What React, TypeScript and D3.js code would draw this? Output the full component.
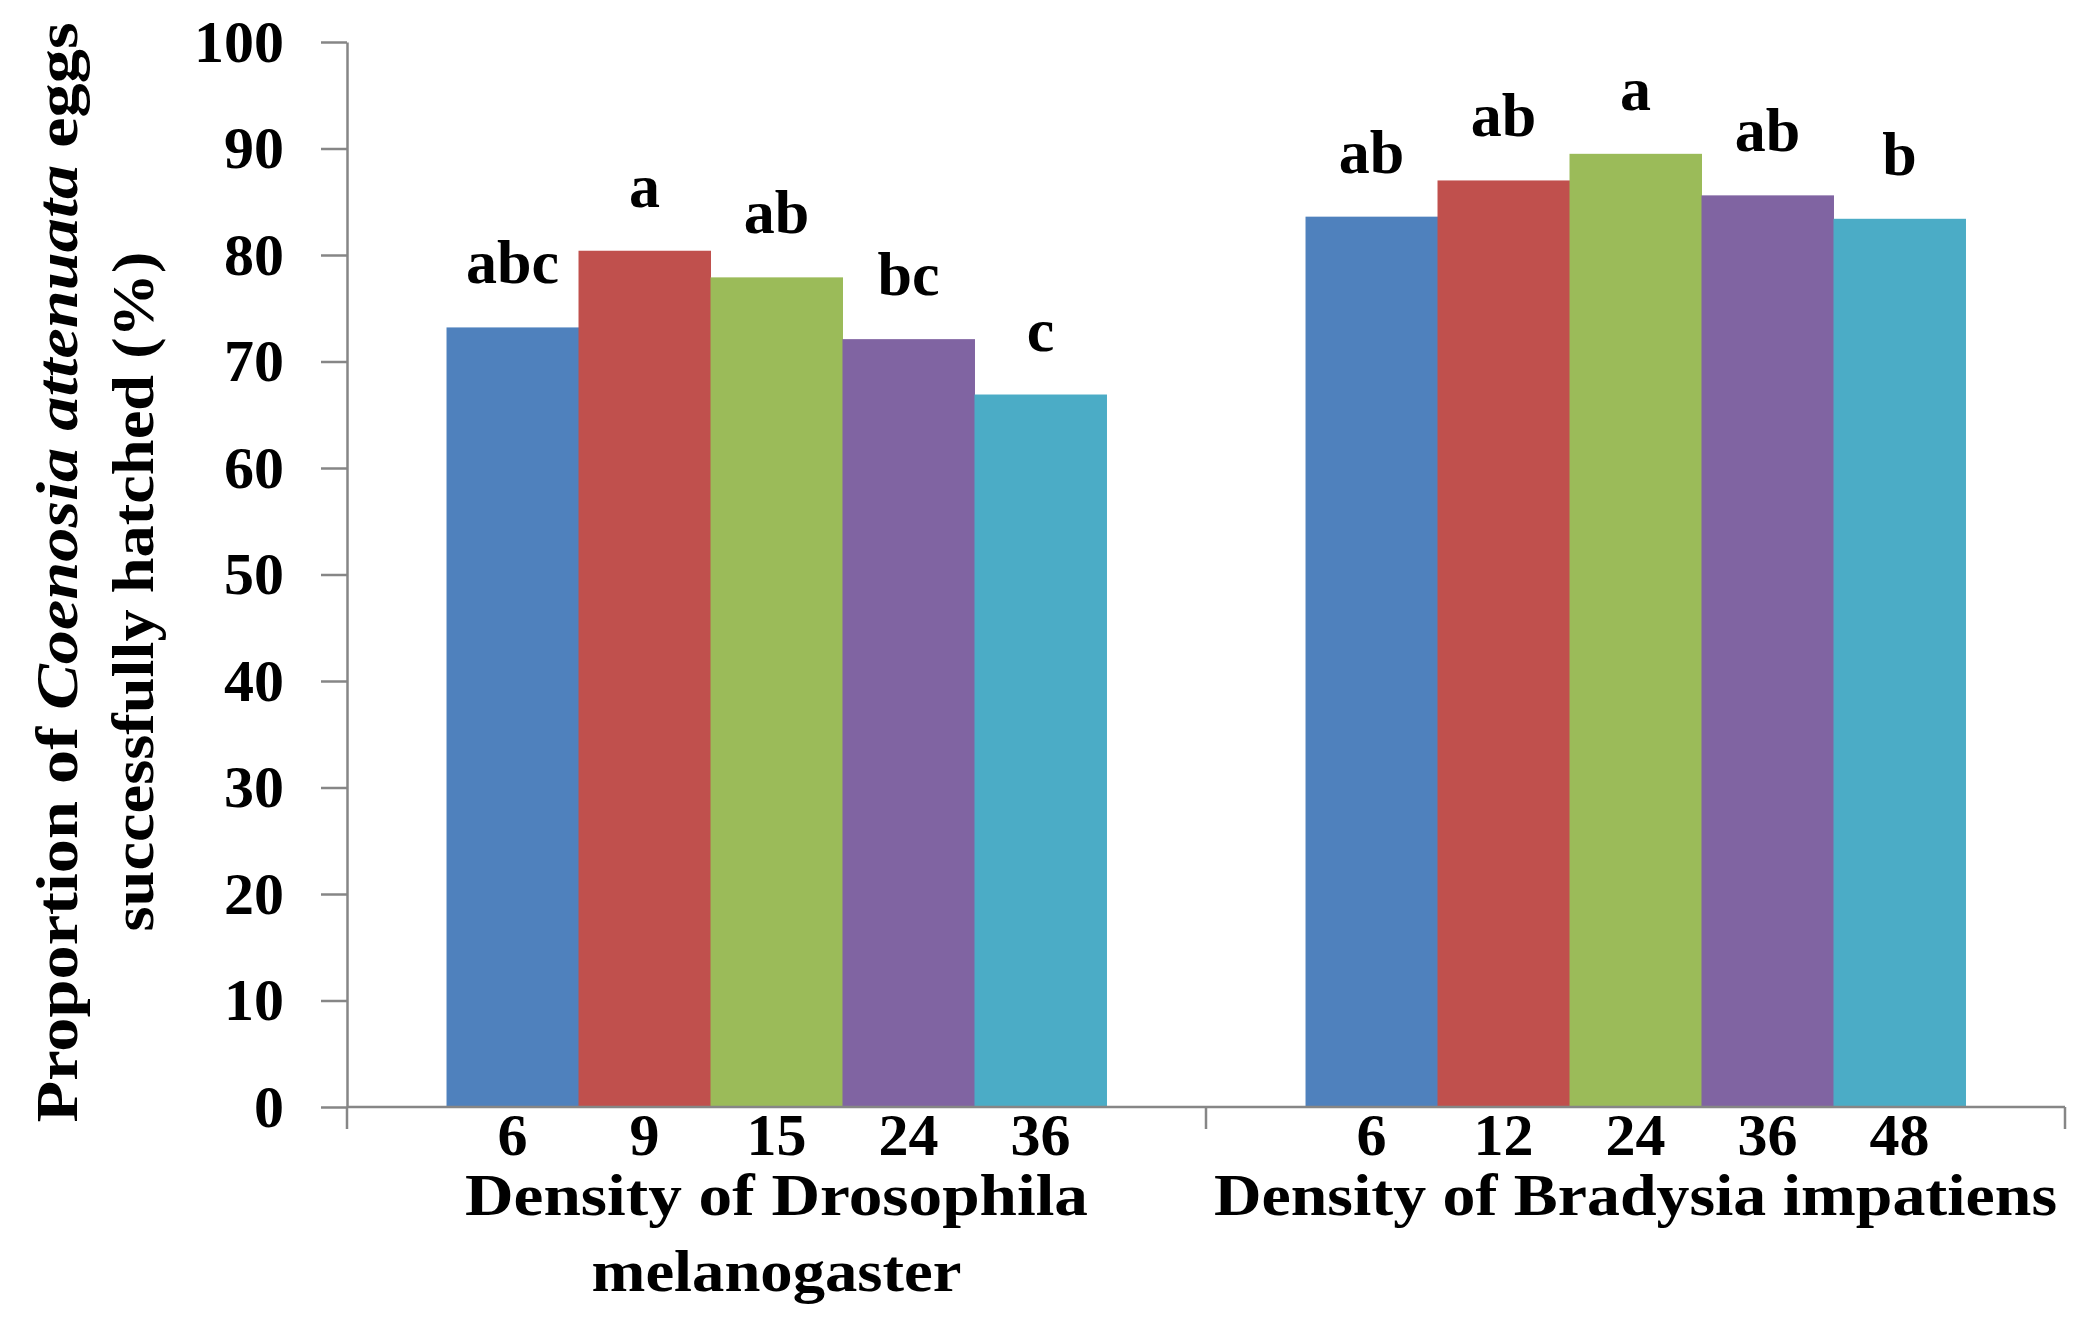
import React, { useEffect, useRef } from 'react';
import * as d3 from 'd3';

// values
const groupTitles = [
  ['Density of Drosophila', 'melanogaster'],
  ['Density of Bradysia impatiens'],
];
const drosophilaDensity = ['6', '9', '15', '24', '36'];
const bradysiaDensity = ['6', '12', '24', '36', '48'];
const drosophilaHatch = [73.2, 80.4, 77.9, 72.1, 66.9];
const bradysiaHatch = [83.6, 87.0, 89.5, 85.6, 83.4];
const drosophilaLetters = ['abc', 'a', 'ab', 'bc', 'c'];
const bradysiaLetters = ['ab', 'ab', 'a', 'ab', 'b'];
const yTicks = [0, 10, 20, 30, 40, 50, 60, 70, 80, 90, 100];
const barColors = ['#4F81BD', '#C0504D', '#9BBB59', '#8064A2', '#4BACC6'];

const W = 2082;
const H = 1329;
const FONT = '"Liberation Serif", "Times New Roman", serif';
// widths of the title lines in the original (its font runs wider than Times)
const titleWidths = [[623, 370], [843]];

export default () => {
  const svgRef = useRef<SVGSVGElement>(null);

  useEffect(() => {
    if (!svgRef.current) return;
    const svg = d3.select(svgRef.current);
    svg.selectAll('*').remove();

    const left = 347;
    const right = 2065;
    const top = 42;
    const bottom = 1107;

    const y = d3.scaleLinear().domain([0, 100]).range([bottom, top]);
    const xg = d3.scaleBand<number>().domain([0, 1]).range([left, right]).padding(0);

    const groups = [
      { cats: drosophilaDensity, vals: drosophilaHatch, letters: drosophilaLetters },
      { cats: bradysiaDensity, vals: bradysiaHatch, letters: bradysiaLetters },
    ];

    // y axis
    const yAxis = svg.append('g')
      .attr('transform', `translate(${left},0)`)
      .call(d3.axisLeft(y).tickValues(yTicks).tickSizeInner(26).tickSizeOuter(0).tickPadding(37));
    yAxis.select('.domain').attr('stroke', '#868686').attr('stroke-width', 2.5);
    yAxis.selectAll('.tick line').attr('stroke', '#868686').attr('stroke-width', 2.5);
    yAxis.selectAll('.tick text')
      .attr('font-family', FONT)
      .attr('font-size', 60)
      .attr('font-weight', 'bold')
      .attr('fill', '#000');

    groups.forEach((g, gi) => {
      const x = d3.scaleBand<string>()
        .domain(g.cats)
        .range([xg(gi)!, xg(gi)! + xg.bandwidth()])
        .paddingInner(0)
        .paddingOuter(0.754);

      const gg = svg.append('g');
      gg.selectAll('rect')
        .data(g.vals)
        .enter()
        .append('rect')
        .attr('x', (d, i) => x(g.cats[i])!)
        .attr('width', x.bandwidth() + 0.5)
        .attr('y', d => y(d))
        .attr('height', d => y(0) - y(d))
        .attr('fill', (d, i) => barColors[i]);

      gg.selectAll('text.letter')
        .data(g.letters)
        .enter()
        .append('text')
        .attr('class', 'letter')
        .attr('x', (d, i) => x(g.cats[i])! + x.bandwidth() / 2)
        .attr('y', (d, i) => y(g.vals[i]) - 44)
        .attr('text-anchor', 'middle')
        .attr('font-family', FONT)
        .attr('font-size', 62)
        .attr('font-weight', 'bold')
        .text(d => d);

      gg.selectAll('text.cat')
        .data(g.cats)
        .enter()
        .append('text')
        .attr('class', 'cat')
        .attr('x', d => x(d)! + x.bandwidth() / 2)
        .attr('y', y(0) + 48)
        .attr('text-anchor', 'middle')
        .attr('font-family', FONT)
        .attr('font-size', 60)
        .attr('font-weight', 'bold')
        .text(d => d);

      groupTitles[gi].forEach((line, li) => {
        gg.append('text')
          .attr('x', xg(gi)! + xg.bandwidth() / 2)
          .attr('y', 1215 + li * 76)
          .attr('text-anchor', 'middle')
          .attr('font-family', FONT)
          .attr('font-size', 60)
          .attr('font-weight', 'bold')
          .attr('textLength', titleWidths[gi][li])
          .attr('lengthAdjust', 'spacingAndGlyphs')
          .text(line);
      });
    });

    // x axis line with group boundary ticks
    svg.append('line')
      .attr('x1', left).attr('x2', right)
      .attr('y1', y(0)).attr('y2', y(0))
      .attr('stroke', '#868686').attr('stroke-width', 2.5);
    const bounds = [xg(0)!, xg(1)!, xg(1)! + xg.bandwidth()];
    svg.selectAll('line.xtick')
      .data(bounds)
      .enter()
      .append('line')
      .attr('class', 'xtick')
      .attr('x1', d => d).attr('x2', d => d)
      .attr('y1', y(0)).attr('y2', y(0) + 22)
      .attr('stroke', '#868686').attr('stroke-width', 2.5);

    // y axis title
    const cy = (top + bottom) / 2;
    const t1 = svg.append('text')
      .attr('transform', `translate(77,${cy - 2}) rotate(-90)`)
      .attr('text-anchor', 'middle')
      .attr('font-family', FONT)
      .attr('font-size', 60)
      .attr('font-weight', 'bold')
      .attr('textLength', 1100)
      .attr('lengthAdjust', 'spacingAndGlyphs');
    t1.append('tspan').text('Proportion of ');
    t1.append('tspan').attr('font-style', 'italic').text('Coenosia attenuata');
    t1.append('tspan').text(' eggs');

    svg.append('text')
      .attr('transform', `translate(153,${cy + 17}) rotate(-90)`)
      .attr('text-anchor', 'middle')
      .attr('font-family', FONT)
      .attr('font-size', 60)
      .attr('font-weight', 'bold')
      .attr('textLength', 680)
      .attr('lengthAdjust', 'spacingAndGlyphs')
      .text('successfully hatched (%)');
  }, []);

  return (
    <svg
      ref={svgRef}
      width={W}
      height={H}
      style={{ position: 'absolute', left: 0, top: 0, background: '#fff' }}
    />
  );
};
